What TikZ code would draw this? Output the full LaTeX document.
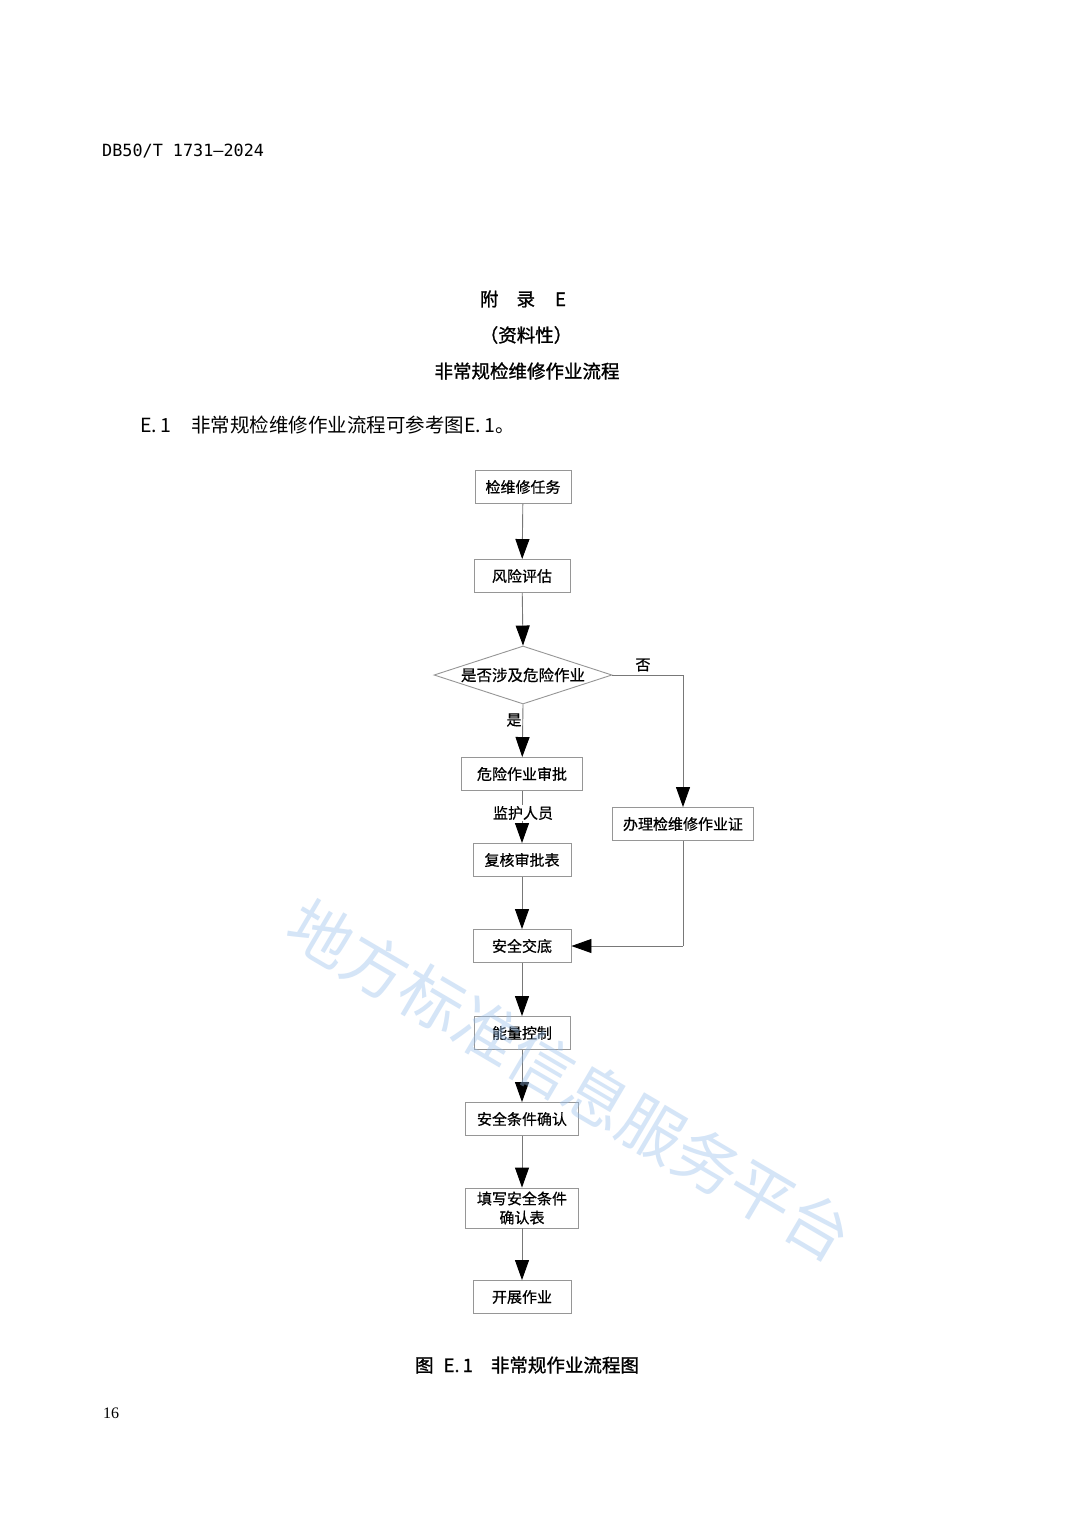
\documentclass[tikz,border=0pt]{standalone}
\usepackage{fontspec}
\setmainfont{Noto Sans CJK SC}
\newfontfamily\medcjk[FakeBold=1.2]{Noto Sans CJK SC}
\newfontfamily\boxcjk[FakeBold=0.6]{Noto Sans CJK SC}
\newfontfamily\serifl{Liberation Serif}
\newfontfamily\monol{DejaVu Sans Mono}
\usetikzlibrary{arrows.meta,shapes.geometric}
\definecolor{linegray}{RGB}{120,120,120}
\definecolor{boxgray}{RGB}{150,150,150}
\definecolor{wmblue}{RGB}{150,190,235}
\tikzset{
  box/.style={draw=boxgray, line width=0.9pt, fill=white, inner sep=0pt, minimum height=33pt, font=\boxcjk\fontsize{15}{17}\selectfont, align=center},
  dec/.style={draw=boxgray, line width=0.9pt, fill=white, diamond, aspect=3, inner sep=0pt, minimum width=178pt, minimum height=58pt, font=\boxcjk\fontsize{15.5}{17}\selectfont},
  flow/.style={draw=linegray, line width=0.9pt, -{Triangle[width=14pt,length=20pt,black]}},
  plain/.style={draw=linegray, line width=0.9pt},
  lbl/.style={font=\boxcjk\fontsize{15}{17}\selectfont, inner sep=1pt},
  ttl/.style={font=\medcjk\fontsize{18.5}{20}\selectfont}
}
\begin{document}
\begin{tikzpicture}[x=1pt,y=-1pt]
\useasboundingbox[fill=white] (0,0) rectangle (1080,1526);
% header and titles
\node[font=\monol\fontsize{16.8}{18}\selectfont, anchor=west, inner sep=0pt] (hd) at (102,151) {DB50/T 1731—2024};
\node[ttl] (t1) at (523,299) {附\hspace{18pt}录\hspace{20pt}E};
\node[ttl] (t2) at (526,335) {（资料性）};
\node[ttl] (t3) at (527,371) {非常规检维修作业流程};
\node[font=\fontsize{19.5}{21}\selectfont, anchor=west, inner sep=0pt] (p1) at (140,425) {E.\,1\hspace{20pt}非常规检维修作业流程可参考图E.\,1。};
% flow nodes
\node[box, minimum width=96pt] (a) at (523,487) {检维修任务};
\node[box, minimum width=96pt] (b) at (522,576) {风险评估};
\node[dec] (c) at (523,675) {是否涉及危险作业};
\node[box, minimum width=121pt] (d) at (522,774) {危险作业审批};
\node[box, minimum width=98pt] (e) at (522,860) {复核审批表};
\node[box, minimum width=141pt] (h) at (683,824) {办理检维修作业证};
\node[box, minimum width=98pt] (f) at (522,946) {安全交底};
\node[box, minimum width=96pt] (g) at (522,1033) {能量控制};
\node[box, minimum width=113pt] (i) at (522,1119) {安全条件确认};
\node[box, minimum width=113pt, minimum height=40pt, font=\boxcjk\fontsize{15}{19}\selectfont] (j) at (522,1208) {填写安全条件\\确认表};
\node[box, minimum width=98pt] (k) at (522,1297) {开展作业};
\coordinate (cr) at (683,675);
\coordinate (fr) at (683,946);
% connectors
\draw[flow] (a) -- (b);
\draw[flow] (b) -- (c.north);
\draw[flow] (c.south) -- (d);
\draw[plain] (c.east) -- (cr);
\draw[flow] (cr) -- (h.north);
\draw[flow] (d) -- (e);
\draw[flow] (e) -- (f);
\draw[plain] (h.south) -- (fr);
\draw[flow] (fr) -- (f.east);
\draw[flow] (f) -- (g);
\draw[flow] (g) -- (i);
\draw[flow] (i) -- (j);
\draw[flow] (j) -- (k);
% labels
\node[lbl] (no) at (643,665) {否};
\node[lbl] (yes) at (514,720) {是};
\node[lbl, fill=white] (mon) at (523,813) {监护人员};
% page number and caption
\node[ttl] (cap) at (527,1365) {图\hspace{10pt}E.\,1\hspace{18pt}非常规作业流程图};
\node[font=\serifl\fontsize{16}{18}\selectfont] (pg) at (111,1413) {16};
% watermark
\node[text=wmblue, opacity=0.4, rotate=-30.5, font=\fontsize{64}{66}\selectfont] (wm) at (570,1080) {地方标准信息服务平台};
\end{tikzpicture}
\end{document}
